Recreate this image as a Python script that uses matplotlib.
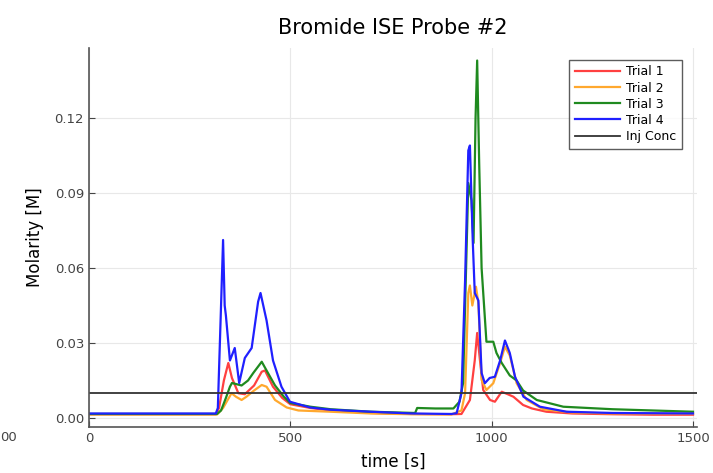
import matplotlib
matplotlib.use("Agg")
import matplotlib.pyplot as plt

# Trial data (time [s], molarity [M])
t1 = [0, 150, 315, 323, 335, 346, 355, 371, 387, 410, 429, 437, 457, 480, 500, 550, 600, 700, 800, 900,
      925, 946, 958, 964, 971, 979, 996, 1008, 1025, 1040, 1054, 1078, 1100, 1136, 1200, 1300, 1400, 1500]
m1 = [0.0015, 0.0015, 0.0015, 0.004, 0.015, 0.022, 0.016, 0.0099, 0.0095, 0.013, 0.0185, 0.019, 0.0125, 0.008,
      0.0055, 0.004, 0.003, 0.002, 0.0016, 0.0015, 0.0016, 0.0072, 0.023, 0.034, 0.023, 0.0112, 0.0072, 0.0065,
      0.0105, 0.0095, 0.0085, 0.0052, 0.0038, 0.0025, 0.0018, 0.0015, 0.0013, 0.0013]

t2 = [0, 150, 318, 333, 354, 365, 379, 391, 410, 429, 441, 462, 491, 520, 600, 700, 800, 900, 925,
      934, 942, 946, 952, 961, 967, 975, 987, 1004, 1021, 1033, 1045, 1062, 1087, 1128, 1200, 1300, 1500]
m2 = [0.0014, 0.0014, 0.0014, 0.004, 0.0099, 0.0085, 0.0072, 0.0085, 0.011, 0.0132, 0.0125, 0.0072, 0.0042,
      0.003, 0.0025, 0.0018, 0.0015, 0.0014, 0.003, 0.0099, 0.050, 0.053, 0.045, 0.0525, 0.046, 0.0152, 0.0112,
      0.0139, 0.022, 0.0285, 0.025, 0.0139, 0.0072, 0.0035, 0.0022, 0.0018, 0.0017]

t3 = [0, 150, 318, 328, 340, 350, 355, 379, 395, 408, 429, 441, 462, 484, 500, 550, 600, 700, 810, 815,
      860, 905, 920, 929, 942, 950, 955, 960, 964, 969, 975, 987, 1004, 1012, 1025, 1045, 1062, 1078, 1112,
      1178, 1300, 1400, 1500]
m3 = [0.0016, 0.0016, 0.0016, 0.003, 0.008, 0.0125, 0.014, 0.013, 0.015, 0.018, 0.0225, 0.019, 0.013, 0.0085,
      0.006, 0.0045, 0.0035, 0.0025, 0.002, 0.004, 0.0038, 0.0038, 0.0065, 0.0139, 0.094, 0.087, 0.07, 0.12,
      0.143, 0.102, 0.06, 0.0305, 0.0305, 0.026, 0.022, 0.017, 0.015, 0.011, 0.0072, 0.0045, 0.0035, 0.003,
      0.0025]

t4 = [0, 150, 315, 320, 327, 333, 337, 340, 350, 362, 373, 387, 404, 420, 426, 441, 457, 478, 499, 549,
      600, 700, 800, 900, 913, 925, 934, 942, 946, 950, 953, 958, 967, 975, 983, 995, 1008, 1021, 1033, 1045,
      1058, 1079, 1120, 1186, 1300, 1400, 1500]
m4 = [0.0018, 0.0018, 0.0018, 0.004, 0.04, 0.0712, 0.045, 0.041, 0.023, 0.028, 0.014, 0.024, 0.028, 0.0465,
      0.050, 0.039, 0.023, 0.0125, 0.0065, 0.0042, 0.0033, 0.0025, 0.0018, 0.0016, 0.0019, 0.0099, 0.055,
      0.107, 0.109, 0.087, 0.071, 0.050, 0.047, 0.018, 0.0139, 0.016, 0.0165, 0.023, 0.031, 0.026, 0.0165,
      0.0085, 0.0045, 0.0025, 0.002, 0.0019, 0.0018]

inj_t = [0, 1510]
inj_m = [0.01, 0.01]

xticks = [0, 500, 1000, 1500]
yticks = [0.00, 0.03, 0.06, 0.09, 0.12]

fig = plt.figure(figsize=(7.13, 4.73), dpi=100)
ax = fig.add_axes([0.1248, 0.0973, 0.8528, 0.8012])

ax.plot(t1, m1, color="#ff4040", lw=1.6, label="Trial 1")
ax.plot(t2, m2, color="#ffa82e", lw=1.6, label="Trial 2")
ax.plot(t3, m3, color="#1f8a1f", lw=1.6, label="Trial 3")
ax.plot(t4, m4, color="#2020ff", lw=1.6, label="Trial 4")
ax.plot(inj_t, inj_m, color="#333333", lw=1.3, label="Inj Conc")

ax.set_xlim(0, 1510)
ax.set_ylim(-0.0036, 0.148)
ax.set_xticks(xticks)
ax.set_yticks(yticks)
ax.set_yticklabels([f"{v:.2f}" for v in yticks])

ax.grid(True, color="#e8e8e8", lw=0.8)
ax.set_axisbelow(True)
for side in ["top", "right"]:
    ax.spines[side].set_visible(False)
for side in ["left", "bottom"]:
    ax.spines[side].set_color("#555555")
    ax.spines[side].set_linewidth(1.2)
ax.tick_params(direction="in", length=4, colors="#444444", labelsize=9.5)

ax.set_title("Bromide ISE Probe #2", fontsize=15, pad=10)
ax.set_xlabel("time [s]", fontsize=12, labelpad=6)
ax.set_ylabel("Molarity [M]", fontsize=12, labelpad=8)

leg = ax.legend(loc="upper right", fontsize=9, frameon=True, fancybox=False,
                handlelength=3.6, handletextpad=0.5, borderpad=0.45, labelspacing=0.25,
                borderaxespad=0, bbox_to_anchor=(0.975, 0.969))
leg.get_frame().set_edgecolor("#333333")
leg.get_frame().set_linewidth(1.0)

# fragment of neighbouring panel's tick label at the left edge
fig.text(0.0, 1 - 437 / 473, "00", fontsize=9.5, color="#444444", ha="left", va="center")

fig.savefig("out.png", dpi=100)
